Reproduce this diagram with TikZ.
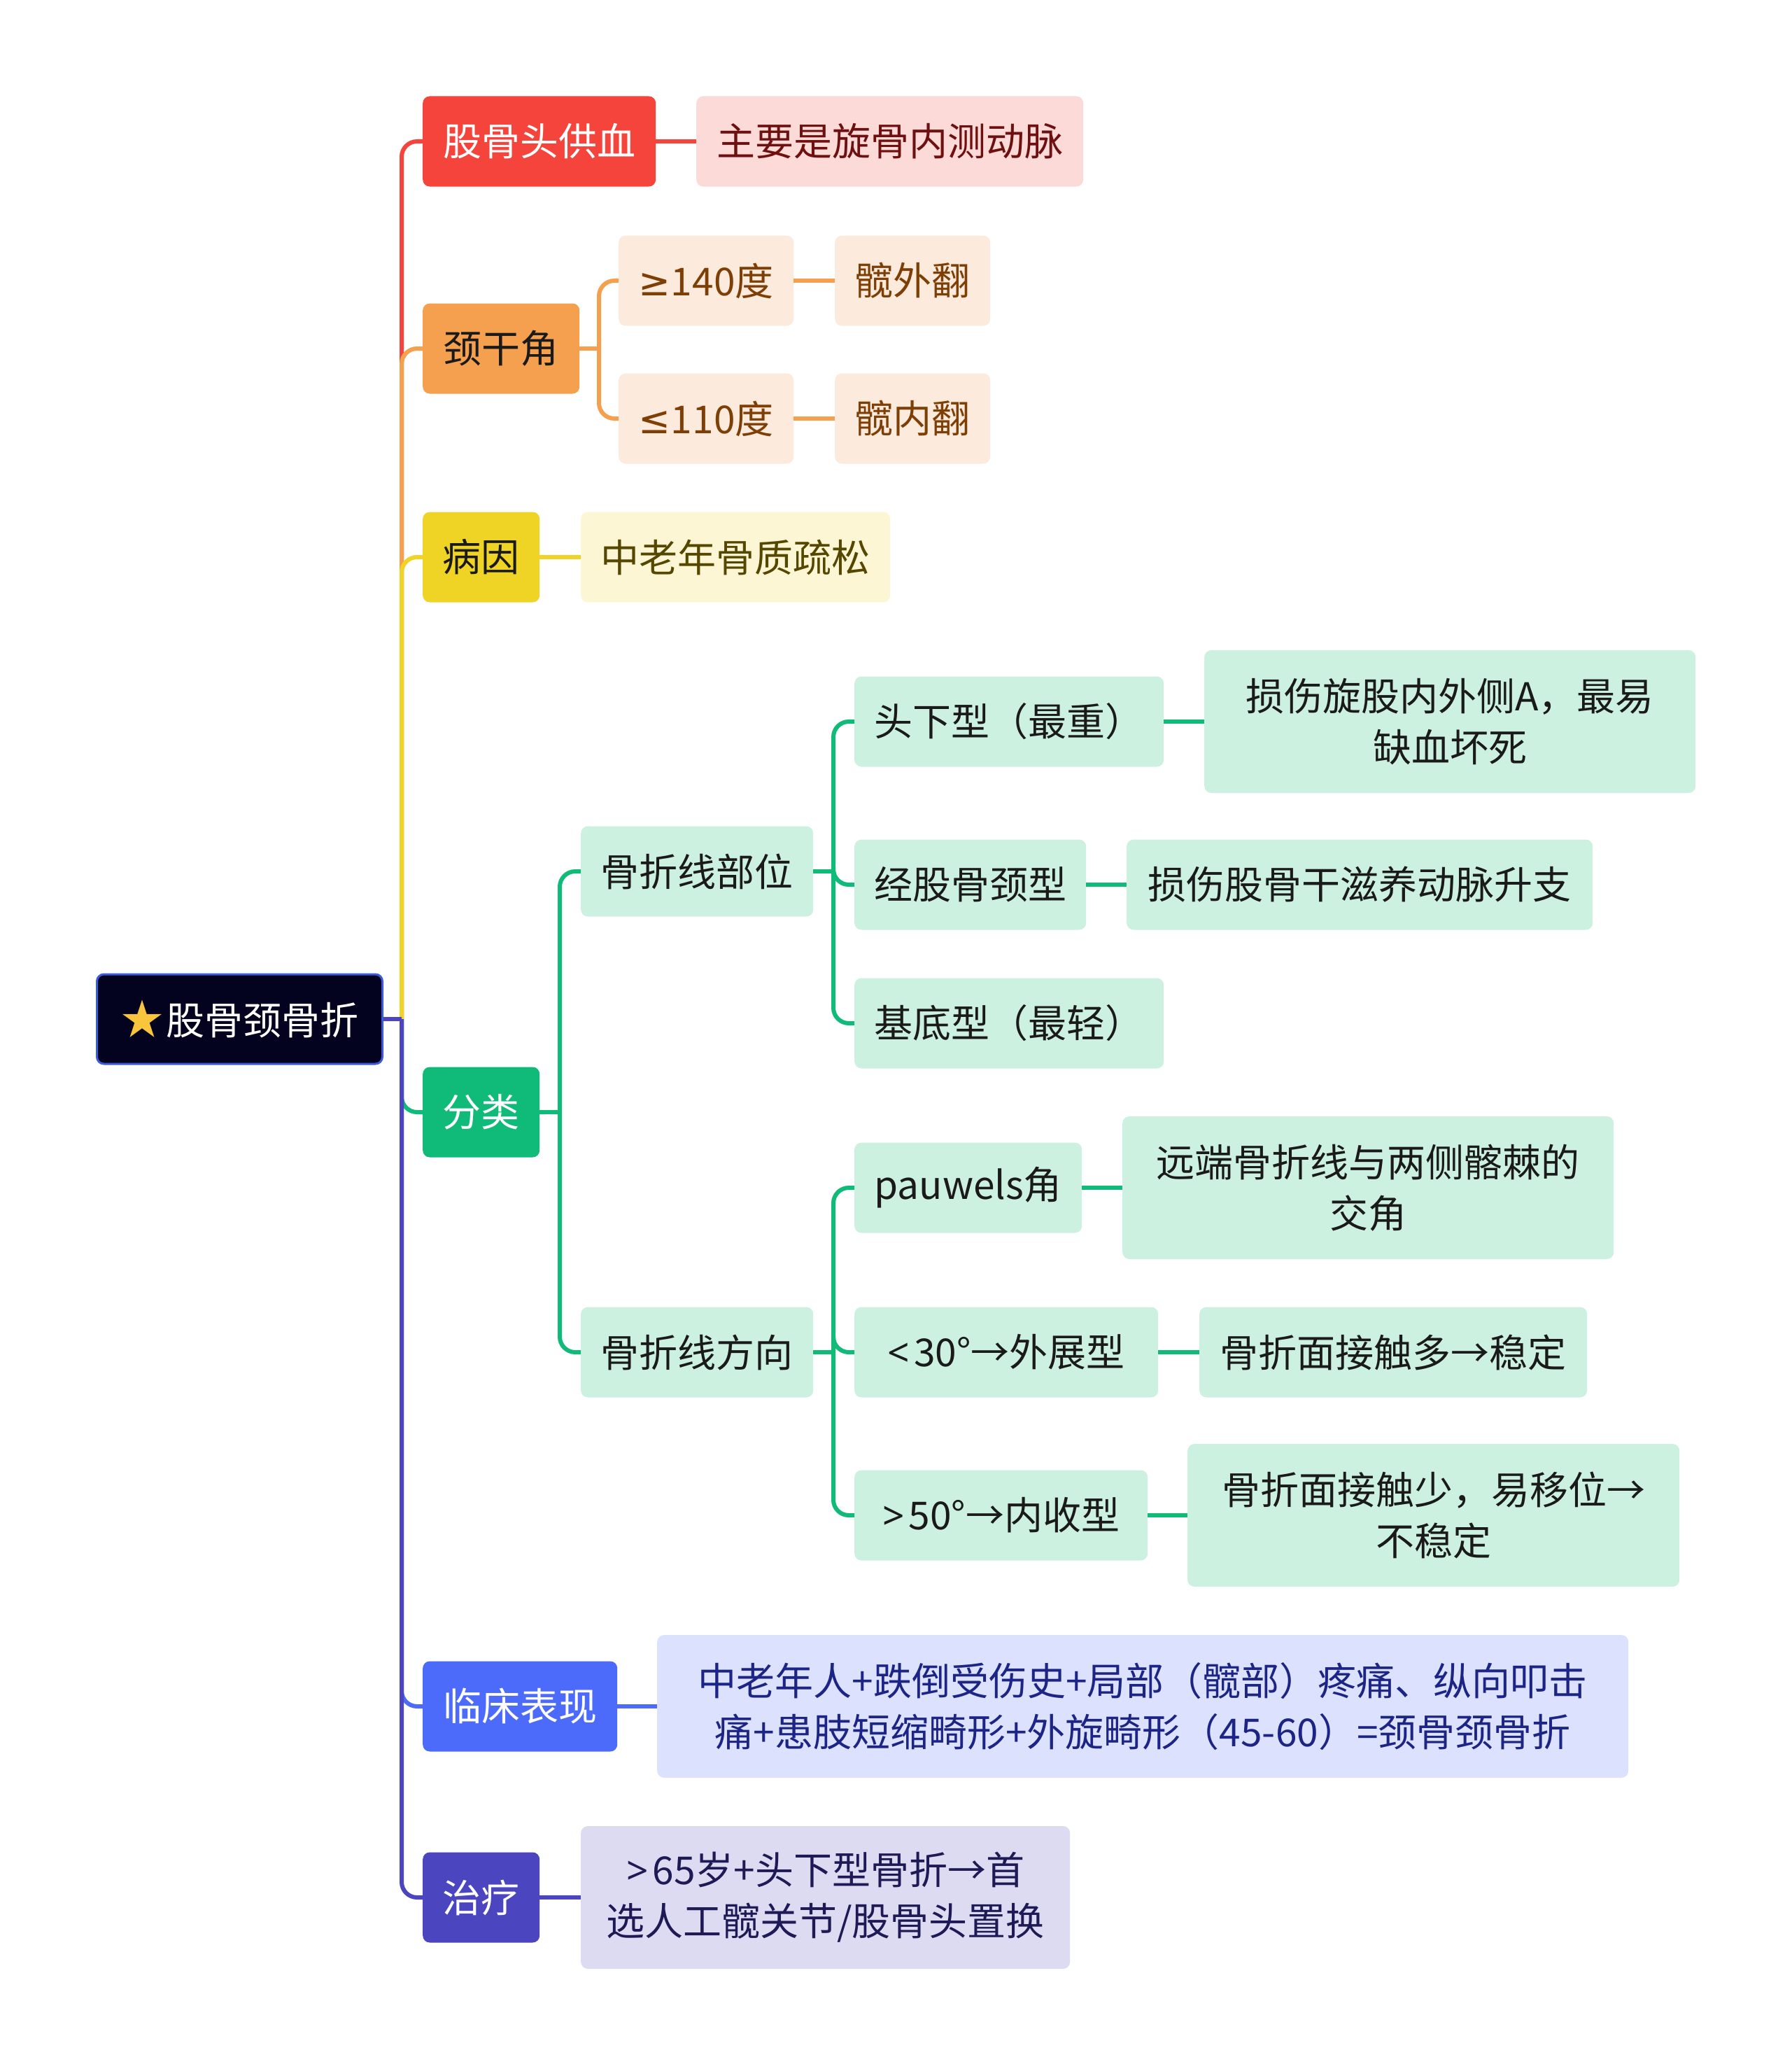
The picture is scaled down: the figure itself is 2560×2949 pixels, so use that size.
\documentclass[tikz,border=0pt]{standalone}
\usepackage{fontspec}
\setmainfont{Noto Sans CJK SC}
\newfontfamily\symf{Noto Sans}
\newfontfamily\dejaf{DejaVu Sans}
\newcommand{\mygeq}{{\dejaf ≥}}
\newcommand{\myleq}{{\dejaf ≤}}
\newcommand{\mylt}{{\symf <}\hspace{6pt}}
\newcommand{\mygt}{{\symf >}\hspace{6pt}}
\definecolor{cRed}{HTML}{F5443C}
\definecolor{cRedL}{HTML}{FCDAD8}
\definecolor{cRedT}{HTML}{6E1010}
\definecolor{cOra}{HTML}{F4A04F}
\definecolor{cOraL}{HTML}{FCEBDC}
\definecolor{cOraT}{HTML}{7E3F06}
\definecolor{cYel}{HTML}{EFD425}
\definecolor{cYelL}{HTML}{FCF6D4}
\definecolor{cYelT}{HTML}{554600}
\definecolor{cGrn}{HTML}{10BA79}
\definecolor{cGrnL}{HTML}{CDF1E1}
\definecolor{cBlu}{HTML}{4D6BFA}
\definecolor{cBluL}{HTML}{DCE2FD}
\definecolor{cBluT}{HTML}{1C2585}
\definecolor{cInd}{HTML}{4B46BF}
\definecolor{cIndL}{HTML}{DDDBF2}
\definecolor{cIndT}{HTML}{1D1A55}
\definecolor{cRoot}{HTML}{03031F}
\definecolor{cRootB}{HTML}{3B5BDB}
\definecolor{cStar}{HTML}{F9C53D}
\definecolor{cDark}{HTML}{1A1A1A}
\begin{document}
\begin{tikzpicture}[x=1pt,y=-1pt,
  box/.style={rounded corners=10pt, inner sep=0pt, align=center, anchor=west,
    minimum height=129pt, font=\fontsize{55}{73}\selectfont},
  tall/.style={minimum height=204pt},
  conn/.style={line width=6pt, rounded corners=22pt},
  stub/.style={line width=6pt}]
\useasboundingbox (0,0) rectangle (2560,2949);
\fill[white] (0,0) rectangle (2560,2949);

% root
\node[box, fill=cRoot, draw=cRootB, line width=3pt, text=white, minimum width=408pt, minimum height=128pt] (root) at (137,1456) {\textcolor{cStar}{\fontsize{60}{73}\selectfont ★}\hspace{4pt}股骨颈骨折};

% level 1
\node[box, fill=cRed, text=white, minimum width=333pt] (blood) at (604,202) {股骨头供血};
\node[box, fill=cOra, text=cDark, minimum width=224pt] (angle) at (604,498) {颈干角};
\node[box, fill=cYel, text=cDark, minimum width=167pt] (cause) at (604,796) {病因};
\node[box, fill=cGrn, text=white, minimum width=167pt] (cls) at (604,1589) {分类};
\node[box, fill=cBlu, text=white, minimum width=278pt] (clin) at (604,2438) {临床表现};
\node[box, fill=cInd, text=white, minimum width=167pt] (treat) at (604,2711) {治疗};

% level 2
\node[box, fill=cRedL, text=cRedT, minimum width=553pt] (bloodc) at (995,202) {主要是旋骨内测动脉};
\node[box, fill=cOraL, text=cOraT, minimum width=250pt] (ge) at (884,401) {\mygeq 140度};
\node[box, fill=cOraL, text=cOraT, minimum width=222pt] (valg) at (1193,401) {髋外翻};
\node[box, fill=cOraL, text=cOraT, minimum width=250pt] (le) at (884,598) {\myleq 110度};
\node[box, fill=cOraL, text=cOraT, minimum width=222pt] (varu) at (1193,598) {髋内翻};
\node[box, fill=cYelL, text=cYelT, minimum width=442pt] (causec) at (830,796) {中老年骨质疏松};
\node[box, fill=cGrnL, text=cDark, minimum width=332pt] (site) at (830,1245) {骨折线部位};
\node[box, fill=cGrnL, text=cDark, minimum width=332pt] (dir) at (830,1932) {骨折线方向};
\node[box, tall, fill=cBluL, text=cBluT, minimum width=1388pt] (clinc) at (939,2438) {中老年人+跌倒受伤史+局部（髋部）疼痛、纵向叩击\\痛+患肢短缩畸形+外旋畸形（45-60）=颈骨颈骨折};
\node[box, tall, fill=cIndL, text=cIndT, minimum width=699pt] (treatc) at (830,2711) {\mygt 65岁+头下型骨折→首\\选人工髋关节/股骨头置换};

% level 3
\node[box, fill=cGrnL, text=cDark, minimum width=442pt] (sub) at (1221,1031) {头下型（最重）};
\node[box, tall, fill=cGrnL, text=cDark, minimum width=702pt] (subc) at (1721,1031) {损伤旋股内外侧A，最易\\缺血坏死};
\node[box, fill=cGrnL, text=cDark, minimum width=331pt] (trans) at (1221,1264) {经股骨颈型};
\node[box, fill=cGrnL, text=cDark, minimum width=666pt] (transc) at (1610,1264) {损伤股骨干滋养动脉升支};
\node[box, fill=cGrnL, text=cDark, minimum width=442pt] (base) at (1221,1462) {基底型（最轻）};
\node[box, fill=cGrnL, text=cDark, minimum width=325pt] (pauw) at (1221,1697) {pauwels角};
\node[box, tall, fill=cGrnL, text=cDark, minimum width=702pt] (pauwc) at (1604,1697) {远端骨折线与两侧髂棘的\\交角};
\node[box, fill=cGrnL, text=cDark, minimum width=434pt] (abd) at (1221,1932) {\mylt 30°→外展型};
\node[box, fill=cGrnL, text=cDark, minimum width=554pt] (abdc) at (1714,1932) {骨折面接触多→稳定};
\node[box, fill=cGrnL, text=cDark, minimum width=419pt] (addu) at (1221,2165) {\mygt 50°→内收型};
\node[box, tall, fill=cGrnL, text=cDark, minimum width=703pt] (adduc) at (1697,2165) {骨折面接触少，易移位→\\不稳定};

% bus coordinates
\coordinate (trunk) at (574,1456);
\coordinate (angbus) at (856,498);
\coordinate (clsbus) at (800,1589);
\coordinate (sitebus) at (1191,1245);
\coordinate (dirbus) at (1191,1932);

% trunk branches
\draw[conn, cRed] (trunk) |- (blood.west);
\draw[conn, cOra] (trunk) |- (angle.west);
\draw[conn, cYel] (trunk) |- (cause.west);
\draw[conn, cGrn] (trunk) |- (cls.west);
\draw[conn, cBlu] (trunk) |- (clin.west);
\draw[conn, cInd] (trunk) |- (treat.west);
\draw[stub, cInd] (root.east) -- (trunk);

% level-2 connectors
\draw[stub, cRed] (blood.east) -- (bloodc.west);
\draw[stub, cOra] (angle.east) -- (angbus);
\draw[conn, cOra] (angbus) |- (ge.west);
\draw[conn, cOra] (angbus) |- (le.west);
\draw[stub, cOra] (ge.east) -- (valg.west);
\draw[stub, cOra] (le.east) -- (varu.west);
\draw[stub, cYel] (cause.east) -- (causec.west);
\draw[stub, cGrn] (cls.east) -- (clsbus);
\draw[conn, cGrn] (clsbus) |- (site.west);
\draw[conn, cGrn] (clsbus) |- (dir.west);
\draw[stub, cBlu] (clin.east) -- (clinc.west);
\draw[stub, cInd] (treat.east) -- (treatc.west);

% level-3 connectors
\draw[stub, cGrn] (site.east) -- (sitebus);
\draw[conn, cGrn] (sitebus) |- (sub.west);
\draw[conn, cGrn] (sitebus) |- (trans.west);
\draw[conn, cGrn] (sitebus) |- (base.west);
\draw[stub, cGrn] (sub.east) -- (subc.west);
\draw[stub, cGrn] (trans.east) -- (transc.west);
\draw[stub, cGrn] (dir.east) -- (dirbus);
\draw[conn, cGrn] (dirbus) |- (pauw.west);
\draw[conn, cGrn] (dirbus) |- (abd.west);
\draw[conn, cGrn] (dirbus) |- (addu.west);
\draw[stub, cGrn] (pauw.east) -- (pauwc.west);
\draw[stub, cGrn] (abd.east) -- (abdc.west);
\draw[stub, cGrn] (addu.east) -- (adduc.west);
\end{tikzpicture}
\end{document}
